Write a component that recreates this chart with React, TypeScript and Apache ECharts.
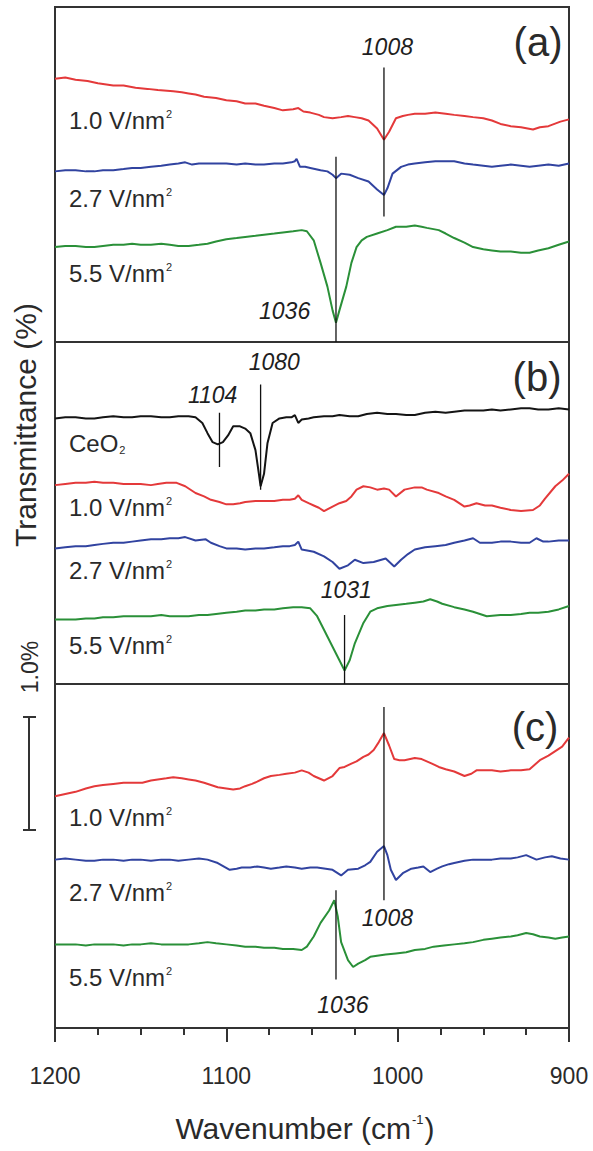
import React, { useEffect, useRef } from "react";
import * as echarts from "echarts";

// ---- axis ----
const X_MIN = 900;
const X_MAX = 1200;
const X_INTERVAL = 100;

// ---- panel (a) ----
const redA = [[1200,2.33],[1194,2.34],[1188,2.32],[1181,2.31],[1175,2.29],[1166,2.27],[1160,2.27],[1153,2.25],[1146,2.24],[1140,2.23],[1131,2.22],[1126,2.21],[1122,2.20],[1118,2.19],[1113,2.17],[1106,2.16],[1100,2.14],[1094,2.13],[1089,2.11],[1083,2.11],[1078,2.09],[1072,2.07],[1067,2.05],[1061,2.06],[1058,2.07],[1055,2.04],[1051,2.03],[1046,2.01],[1043,1.99],[1038,1.98],[1033,1.99],[1029,2.00],[1025,1.99],[1021,1.98],[1017,1.96],[1012,1.89],[1008,1.79],[1005,1.86],[1001,1.98],[997,2.00],[994,2.01],[990,2.02],[984,2.02],[978,2.03],[972,2.02],[967,2.01],[961,2.00],[956,1.99],[950,1.98],[945,1.96],[940,1.93],[934,1.91],[928,1.90],[921,1.88],[917,1.90],[912,1.91],[905,1.95],[900,1.97]];
const blueA = [[1200,1.51],[1194,1.52],[1188,1.52],[1182,1.51],[1177,1.51],[1172,1.52],[1166,1.52],[1160,1.53],[1155,1.54],[1150,1.54],[1144,1.55],[1138,1.56],[1133,1.57],[1128,1.58],[1124,1.59],[1120,1.57],[1116,1.58],[1108,1.58],[1100,1.58],[1094,1.57],[1089,1.58],[1083,1.57],[1078,1.57],[1072,1.58],[1067,1.58],[1062,1.59],[1060,1.60],[1059,1.62],[1057,1.55],[1054,1.55],[1051,1.54],[1045,1.52],[1041,1.51],[1038,1.48],[1036,1.45],[1033,1.49],[1028,1.48],[1023,1.45],[1017,1.42],[1012,1.35],[1008,1.30],[1006,1.36],[1003,1.49],[998,1.55],[994,1.57],[990,1.58],[984,1.59],[978,1.60],[972,1.60],[967,1.60],[961,1.58],[956,1.57],[950,1.56],[945,1.55],[940,1.56],[934,1.57],[928,1.56],[923,1.55],[918,1.56],[912,1.57],[906,1.56],[900,1.58]];
const greenA = [[1200,0.84],[1194,0.85],[1188,0.85],[1182,0.84],[1177,0.84],[1172,0.85],[1166,0.86],[1160,0.86],[1155,0.87],[1150,0.86],[1144,0.86],[1138,0.87],[1133,0.86],[1128,0.85],[1122,0.85],[1116,0.86],[1111,0.87],[1106,0.89],[1100,0.91],[1094,0.92],[1089,0.93],[1083,0.94],[1078,0.95],[1072,0.96],[1067,0.97],[1061,0.98],[1056,0.99],[1053,0.98],[1049,0.90],[1045,0.70],[1041,0.49],[1038,0.28],[1036,0.17],[1034,0.28],[1030,0.49],[1027,0.70],[1024,0.84],[1021,0.90],[1018,0.93],[1012,0.96],[1006,0.99],[1001,1.02],[995,1.02],[990,1.03],[986,1.02],[983,1.01],[976,0.99],[972,0.96],[967,0.92],[961,0.88],[956,0.84],[950,0.82],[945,0.81],[940,0.80],[934,0.80],[928,0.79],[923,0.79],[918,0.81],[912,0.83],[906,0.86],[900,0.89]];

// ---- panel (b) ----
const blackB = [[1200,2.35],[1194,2.36],[1188,2.36],[1182,2.35],[1177,2.35],[1172,2.36],[1166,2.37],[1160,2.36],[1155,2.36],[1150,2.37],[1144,2.37],[1138,2.36],[1133,2.36],[1128,2.37],[1122,2.37],[1118,2.36],[1114,2.31],[1111,2.22],[1108,2.14],[1105,2.12],[1102,2.14],[1099,2.20],[1096,2.28],[1092,2.28],[1089,2.26],[1086,2.22],[1083,2.07],[1081,1.86],[1080,1.75],[1078,1.86],[1076,2.13],[1073,2.31],[1069,2.35],[1065,2.36],[1062,2.36],[1060,2.38],[1058,2.31],[1056,2.34],[1052,2.35],[1049,2.36],[1043,2.37],[1038,2.37],[1034,2.38],[1028,2.37],[1023,2.37],[1018,2.39],[1012,2.40],[1006,2.39],[1001,2.39],[995,2.38],[990,2.38],[984,2.40],[978,2.41],[972,2.40],[967,2.41],[961,2.42],[956,2.42],[950,2.42],[945,2.43],[940,2.42],[934,2.43],[928,2.44],[923,2.44],[918,2.43],[912,2.43],[906,2.44],[900,2.43]];
const redB = [[1200,1.76],[1194,1.77],[1188,1.78],[1182,1.78],[1177,1.79],[1172,1.78],[1166,1.78],[1160,1.77],[1155,1.77],[1150,1.77],[1144,1.76],[1140,1.77],[1135,1.78],[1129,1.78],[1124,1.75],[1118,1.69],[1113,1.66],[1109,1.63],[1104,1.61],[1100,1.59],[1096,1.59],[1092,1.60],[1089,1.61],[1083,1.62],[1078,1.62],[1072,1.62],[1067,1.63],[1063,1.63],[1060,1.64],[1058,1.67],[1056,1.63],[1052,1.60],[1049,1.58],[1046,1.56],[1043,1.53],[1038,1.57],[1034,1.60],[1030,1.62],[1027,1.66],[1024,1.72],[1020,1.75],[1016,1.74],[1012,1.72],[1008,1.73],[1005,1.72],[1001,1.66],[996,1.72],[990,1.74],[986,1.74],[983,1.72],[976,1.69],[972,1.66],[967,1.63],[961,1.57],[958,1.58],[954,1.60],[949,1.58],[945,1.58],[940,1.56],[934,1.54],[928,1.53],[921,1.54],[917,1.58],[914,1.64],[908,1.75],[904,1.80],[900,1.86]];
const blueB = [[1200,1.20],[1194,1.21],[1188,1.22],[1182,1.22],[1177,1.23],[1172,1.24],[1166,1.25],[1160,1.25],[1155,1.26],[1150,1.27],[1144,1.28],[1138,1.28],[1133,1.29],[1128,1.29],[1124,1.30],[1118,1.27],[1112,1.28],[1109,1.25],[1104,1.22],[1100,1.20],[1094,1.20],[1089,1.19],[1083,1.20],[1078,1.20],[1072,1.21],[1067,1.22],[1063,1.22],[1060,1.23],[1058,1.26],[1056,1.19],[1052,1.18],[1049,1.17],[1043,1.13],[1038,1.08],[1034,1.02],[1029,1.05],[1025,1.10],[1020,1.07],[1014,1.08],[1007,1.11],[1002,1.04],[998,1.10],[994,1.15],[990,1.19],[984,1.21],[978,1.22],[972,1.23],[967,1.25],[961,1.27],[956,1.29],[952,1.25],[945,1.25],[940,1.26],[934,1.26],[928,1.25],[923,1.25],[919,1.29],[915,1.26],[912,1.26],[906,1.27],[900,1.27]];
const greenB = [[1200,0.57],[1194,0.57],[1188,0.57],[1182,0.58],[1177,0.58],[1172,0.59],[1166,0.59],[1160,0.60],[1155,0.60],[1150,0.60],[1144,0.60],[1138,0.61],[1133,0.60],[1128,0.60],[1122,0.60],[1116,0.61],[1111,0.61],[1106,0.62],[1100,0.63],[1094,0.64],[1089,0.65],[1083,0.65],[1078,0.66],[1072,0.66],[1067,0.67],[1061,0.68],[1056,0.68],[1051,0.67],[1047,0.60],[1043,0.48],[1038,0.33],[1034,0.21],[1031,0.12],[1028,0.21],[1025,0.36],[1020,0.54],[1016,0.64],[1012,0.67],[1006,0.69],[1001,0.70],[995,0.71],[990,0.72],[985,0.73],[981,0.75],[977,0.73],[974,0.71],[967,0.68],[961,0.66],[956,0.64],[952,0.62],[948,0.60],[940,0.61],[934,0.61],[928,0.62],[923,0.63],[918,0.63],[912,0.64],[906,0.66],[900,0.69]];

// ---- panel (c) ----
const redC = [[1200,2.05],[1194,2.07],[1188,2.09],[1182,2.12],[1177,2.14],[1172,2.15],[1166,2.16],[1160,2.17],[1155,2.17],[1149,2.17],[1144,2.19],[1140,2.20],[1135,2.21],[1131,2.22],[1126,2.21],[1122,2.20],[1118,2.19],[1113,2.17],[1109,2.15],[1105,2.13],[1100,2.12],[1096,2.11],[1092,2.12],[1089,2.14],[1085,2.16],[1082,2.18],[1078,2.21],[1074,2.23],[1069,2.24],[1065,2.25],[1060,2.26],[1056,2.28],[1052,2.26],[1049,2.23],[1043,2.19],[1038,2.23],[1034,2.30],[1031,2.31],[1027,2.34],[1024,2.36],[1020,2.40],[1017,2.42],[1014,2.46],[1011,2.53],[1008,2.61],[1005,2.50],[1002,2.38],[999,2.37],[996,2.37],[990,2.39],[986,2.38],[983,2.36],[980,2.34],[976,2.31],[972,2.29],[967,2.27],[964,2.25],[961,2.23],[957,2.25],[954,2.28],[949,2.28],[945,2.28],[940,2.27],[934,2.28],[928,2.28],[923,2.29],[920,2.33],[917,2.37],[912,2.41],[908,2.45],[904,2.49],[900,2.57]];
const blueC = [[1200,1.49],[1194,1.50],[1188,1.49],[1182,1.48],[1177,1.48],[1172,1.49],[1166,1.49],[1160,1.48],[1155,1.49],[1150,1.49],[1144,1.48],[1138,1.49],[1133,1.49],[1128,1.48],[1122,1.49],[1116,1.50],[1111,1.49],[1105,1.46],[1098,1.40],[1094,1.41],[1091,1.42],[1086,1.42],[1082,1.43],[1078,1.42],[1074,1.41],[1069,1.42],[1065,1.43],[1060,1.42],[1056,1.41],[1051,1.42],[1047,1.42],[1042,1.41],[1038,1.40],[1033,1.35],[1029,1.40],[1023,1.41],[1019,1.44],[1016,1.47],[1012,1.56],[1008,1.61],[1006,1.53],[1004,1.40],[1001,1.31],[997,1.37],[992,1.41],[988,1.42],[985,1.43],[981,1.38],[977,1.41],[974,1.43],[970,1.45],[967,1.46],[961,1.48],[956,1.49],[950,1.49],[945,1.49],[940,1.50],[934,1.50],[930,1.51],[925,1.53],[919,1.49],[914,1.51],[910,1.52],[905,1.50],[900,1.49]];
const greenC = [[1200,0.74],[1194,0.74],[1188,0.74],[1182,0.73],[1177,0.74],[1172,0.74],[1166,0.74],[1160,0.73],[1155,0.74],[1150,0.74],[1144,0.75],[1138,0.74],[1133,0.74],[1128,0.74],[1122,0.74],[1116,0.75],[1111,0.76],[1106,0.75],[1100,0.74],[1094,0.73],[1089,0.72],[1083,0.72],[1078,0.71],[1072,0.71],[1067,0.70],[1061,0.70],[1056,0.69],[1053,0.72],[1049,0.81],[1045,0.93],[1040,1.04],[1037,1.13],[1035,0.99],[1033,0.76],[1029,0.60],[1026,0.54],[1023,0.57],[1019,0.60],[1016,0.63],[1012,0.64],[1007,0.65],[1001,0.66],[995,0.67],[990,0.69],[984,0.70],[979,0.72],[973,0.73],[967,0.74],[961,0.75],[956,0.76],[950,0.78],[945,0.79],[940,0.80],[934,0.81],[930,0.82],[925,0.84],[921,0.83],[917,0.81],[912,0.80],[908,0.79],[904,0.80],[900,0.81]];

// ---- peak markers: panel, wavenumber, vertical extent (in %) ----
const peakLines = [
  { panel: 0, w: 1008, from: 1.11, to: 2.43 },
  { panel: 0, w: 1036, from: 0.0, to: 1.64 },
  { panel: 1, w: 1104, from: 1.92, to: 2.4 },
  { panel: 1, w: 1080, from: 1.72, to: 2.65 },
  { panel: 1, w: 1031, from: 0.0, to: 0.61 },
  { panel: 2, w: 1008, from: 1.13, to: 2.84 },
  { panel: 2, w: 1036, from: 0.43, to: 1.22 },
];
const peakLabels = [
  { panel: 0, w: 1006, v: 2.61, text: "1008" },
  { panel: 0, w: 1066, v: 0.27, text: "1036" },
  { panel: 1, w: 1108, v: 2.56, text: "1104" },
  { panel: 1, w: 1072, v: 2.85, text: "1080" },
  { panel: 1, w: 1030, v: 0.83, text: "1031" },
  { panel: 2, w: 1006, v: 0.97, text: "1008" },
  { panel: 2, w: 1032, v: 0.2, text: "1036" },
];

const RED = "#e4393a";
const BLUE = "#3143a0";
const GREEN = "#2a9038";
const BLACK = "#141414";
const TEXT = "#2a2a2a";
const FONT = "'Liberation Sans', Arial, Helvetica, sans-serif";

const panelSeries = [
  [
    { data: redA, color: RED },
    { data: blueA, color: BLUE },
    { data: greenA, color: GREEN },
  ],
  [
    { data: blackB, color: BLACK },
    { data: redB, color: RED },
    { data: blueB, color: BLUE },
    { data: greenB, color: GREEN },
  ],
  [
    { data: redC, color: RED },
    { data: blueC, color: BLUE },
    { data: greenC, color: GREEN },
  ],
];

export default function App() {
  const ref = useRef<HTMLDivElement>(null);
  useEffect(() => {
    document.body.style.margin = "0";
    const chart = echarts.init(ref.current!, null, { renderer: "svg" });
    const panels = [
      { top: 7, height: 335 },
      { top: 342, height: 342 },
      { top: 684, height: 344 },
    ];
    const pxPerPct = 113;

    const grid = panels.map((p) => ({
      left: 55,
      right: 24,
      top: p.top,
      height: p.height,
      show: true,
      borderColor: "#333",
      borderWidth: 2,
      backgroundColor: "transparent",
    }));
    const xAxis = panels.map((_p, i) => ({
      type: "value",
      gridIndex: i,
      min: X_MIN,
      max: X_MAX,
      interval: X_INTERVAL,
      inverse: true,
      axisLine: { show: i === 2, lineStyle: { color: "#333", width: 2 } },
      axisTick: { show: i === 2, inside: false, length: 14, lineStyle: { color: "#333", width: 2 } },
      minorTick: { show: i === 2, splitNumber: 4, length: 7, lineStyle: { color: "#333", width: 2 } },
      axisLabel: {
        show: i === 2,
        fontSize: 23,
        color: TEXT,
        margin: 36,
        fontFamily: FONT,
        formatter: (v: number) => String(v),
      },
      splitLine: { show: false },
      minorSplitLine: { show: false },
    }));
    const yAxis = panels.map((p, i) => ({
      type: "value",
      gridIndex: i,
      min: 0,
      max: p.height / pxPerPct,
      show: false,
      splitLine: { show: false },
    }));

    const series: any[] = [];
    panelSeries.forEach((list, i) => {
      list.forEach((s) => {
        series.push({
          type: "line",
          xAxisIndex: i,
          yAxisIndex: i,
          data: s.data,
          symbol: "none",
          showSymbol: false,
          silent: true,
          lineStyle: { color: s.color, width: 2 },
          z: 3,
        });
      });
    });
    peakLines.forEach((pk) => {
      series.push({
        type: "line",
        xAxisIndex: pk.panel,
        yAxisIndex: pk.panel,
        data: [
          [pk.w, pk.from],
          [pk.w, pk.to],
        ],
        symbol: "none",
        silent: true,
        lineStyle: { color: "#111", width: 1.3 },
        z: 4,
      });
    });
    [0, 1, 2].forEach((i) => {
      series.push({
        type: "scatter",
        xAxisIndex: i,
        yAxisIndex: i,
        symbolSize: 0,
        silent: true,
        itemStyle: { opacity: 1, color: "transparent" },
        data: peakLabels
          .filter((l) => l.panel === i)
          .map((l) => ({ value: [l.w, l.v], name: l.text })),
        label: {
          show: true,
          position: "inside",
          formatter: "{b}",
          fontSize: 23,
          fontStyle: "italic",
          color: "#1e1e1e",
          opacity: 1,
          textBorderWidth: 0,
          fontFamily: FONT,
        },
        z: 5,
      });
    });

    const sup = { fontSize: 11, verticalAlign: "top", padding: [0, 0, 0, 1], fill: TEXT, fontFamily: FONT };
    const sampleLabel = (text: string, y: number) => ({
      type: "text",
      x: 69,
      y,
      style: {
        text,
        fontSize: 24,
        fontFamily: FONT,
        fill: TEXT,
        align: "left",
        verticalAlign: "middle",
        rich: { s: sup, sub: { fontSize: 11, verticalAlign: "bottom", fill: TEXT, fontFamily: FONT, padding: [0, 0, 0, 1] } },
      },
      z: 10,
    });
    const panelLetter = (text: string, x: number, y: number) => ({
      type: "text",
      x,
      y,
      style: { text, fontSize: 40, fontFamily: FONT, fill: TEXT, align: "center", verticalAlign: "middle" },
      z: 10,
    });

    const graphic: any[] = [
      panelLetter("(a)", 538, 42),
      panelLetter("(b)", 537, 377),
      panelLetter("(c)", 535, 727),
      sampleLabel("1.0 V/nm{s|2}", 120),
      sampleLabel("2.7 V/nm{s|2}", 198),
      sampleLabel("5.5 V/nm{s|2}", 273),
      sampleLabel("CeO{sub|2}", 443),
      sampleLabel("1.0 V/nm{s|2}", 507),
      sampleLabel("2.7 V/nm{s|2}", 570),
      sampleLabel("5.5 V/nm{s|2}", 645),
      sampleLabel("1.0 V/nm{s|2}", 817),
      sampleLabel("2.7 V/nm{s|2}", 892),
      sampleLabel("5.5 V/nm{s|2}", 977),
      {
        type: "text",
        x: 25,
        y: 425,
        rotation: Math.PI / 2,
        style: { text: "Transmittance (%)", fontSize: 30, fontFamily: FONT, fill: TEXT, align: "center", verticalAlign: "middle" },
      },
      {
        type: "text",
        x: 30,
        y: 667,
        rotation: Math.PI / 2,
        style: { text: "1.0%", fontSize: 23, fontFamily: FONT, fill: TEXT, align: "center", verticalAlign: "middle" },
      },
      { type: "line", shape: { x1: 29, y1: 717, x2: 29, y2: 717 + pxPerPct }, style: { stroke: "#333", lineWidth: 2 } },
      { type: "line", shape: { x1: 23, y1: 717, x2: 36, y2: 717 }, style: { stroke: "#333", lineWidth: 2 } },
      { type: "line", shape: { x1: 23, y1: 717 + pxPerPct, x2: 36, y2: 717 + pxPerPct }, style: { stroke: "#333", lineWidth: 2 } },
      {
        type: "text",
        x: 305,
        y: 1128,
        style: {
          text: "Wavenumber (cm{s|-1})",
          fontSize: 30,
          fontFamily: FONT,
          fill: TEXT,
          align: "center",
          verticalAlign: "middle",
          rich: { s: { fontSize: 13, verticalAlign: "top", fill: TEXT, fontFamily: FONT, padding: [0, 1, 0, 1] } },
        },
      },
    ];

    chart.setOption({
      animation: false,
      backgroundColor: "#ffffff",
      grid,
      xAxis,
      yAxis,
      series,
      graphic,
    });
    return () => chart.dispose();
  }, []);
  return <div ref={ref} style={{ width: 593, height: 1151 }} />;
}
